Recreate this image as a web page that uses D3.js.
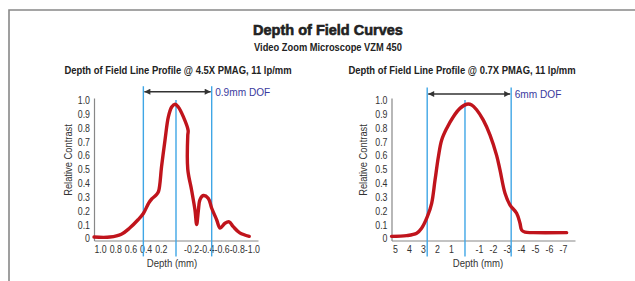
<!DOCTYPE html>
<html>
<head>
<meta charset="utf-8">
<script src="https://cdn.jsdelivr.net/npm/d3@7"></script>
<style>
  body { margin: 0; background: #fff; }
  svg text { fill: #333; font-family: 'Liberation Sans', Arial, sans-serif; }
</style>
</head>
<body>
<svg id="viewer"></svg>
<script>
// depth (mm) vs relative contrast
var leftDepth = [1.08, 0.87, 0.72, 0.61, 0.50, 0.43, 0.36, 0.32, 0.26, 0.23, 0.19, 0.145, 0.10, 0.057, 0.013, -0.03, -0.096, -0.16, -0.155, -0.155, -0.205, -0.25, -0.272, -0.294, -0.316, -0.36, -0.425, -0.469, -0.535, -0.58, -0.645, -0.70, -0.754, -0.84, -0.965];
var leftContrast = [0.01, 0.01, 0.03, 0.075, 0.135, 0.18, 0.255, 0.285, 0.315, 0.34, 0.52, 0.71, 0.88, 0.95, 0.97, 0.95, 0.88, 0.78, 0.745, 0.5, 0.35, 0.205, 0.10, 0.2, 0.28, 0.31, 0.29, 0.22, 0.135, 0.075, 0.11, 0.12, 0.085, 0.04, 0.015];

var rightDepth = [5.25, 4.17, 3.45, 3.1, 2.69, 2.38, 2.14, 1.90, 1.67, 1.31, 0.83, 0.36, -0.12, -0.48, -0.83, -1.31, -1.79, -2.26, -2.5, -2.86, -3.21, -3.69, -3.93, -4.05, -4.29, -4.88, -7.26];
var rightContrast = [0.015, 0.02, 0.037, 0.073, 0.157, 0.254, 0.422, 0.59, 0.71, 0.795, 0.88, 0.94, 0.97, 0.965, 0.93, 0.855, 0.747, 0.60, 0.495, 0.326, 0.242, 0.182, 0.11, 0.06, 0.045, 0.042, 0.042];

var leftTicks = [1.0, 0.8, 0.6, 0.4, 0.2, -0.2, -0.4, -0.6, -0.8, -1.0];
var rightTicks = [5, 4, 3, 2, 1, -1, -2, -3, -4, -5, -6, -7];
var yTicks = [0, 0.1, 0.2, 0.3, 0.4, 0.5, 0.6, 0.7, 0.8, 0.9, 1.0];

var leftDof = [0.43, 0, -0.47];
var rightDof = [2.7, 0, -3.3];

var charts = [
  {title: 'Depth of Field Line Profile @ 4.5X PMAG, 11 lp/mm', depth: leftDepth, contrast: leftContrast,
   ticks: leftTicks, fmt: d3.format('.1f'), dof: leftDof, dofLabel: '0.9mm DOF',
   domain: [1.08, -1.08], range: [94, 258], titleX: 178, labelX: 172, yLabelX: 68, arrowY: 91.7, dofTop: 1.1},
  {title: 'Depth of Field Line Profile @ 0.7X PMAG, 11 lp/mm', depth: rightDepth, contrast: rightContrast,
   ticks: rightTicks, fmt: d3.format('d'), dof: rightDof, dofLabel: '6mm DOF',
   domain: [5.25, -7.86], range: [391.5, 575], titleX: 462, labelX: 478, yLabelX: 363, arrowY: 94, dofTop: 1.09}
];

// no Arial Narrow here, so squeeze Liberation Sans horizontally
function narrow(sel, k) {
  sel.each(function() {
    var w = this.getComputedTextLength();
    d3.select(this).attr('textLength', w * k).attr('lengthAdjust', 'spacingAndGlyphs');
  });
}

var svg = d3.select('#viewer').attr('width', 635).attr('height', 281);

svg.append('defs').append('marker')
  .attr('id', 'head')
  .attr('viewBox', '0 0 10 10')
  .attr('refX', 10).attr('refY', 5)
  .attr('markerWidth', 7).attr('markerHeight', 6)
  .attr('markerUnits', 'userSpaceOnUse')
  .attr('orient', 'auto-start-reverse')
  .append('path').attr('d', 'M0,0L10,5L0,10Z').attr('fill', '#333');

// frame
svg.append('path').attr('d', 'M9,281V10H635').attr('fill', 'none')
  .attr('stroke', '#888').attr('stroke-width', 1.6);

svg.append('text').attr('x', 328).attr('y', 35).attr('text-anchor', 'middle')
  .style('font-weight', 'bold').style('font-size', '14.5px').style('fill', '#222')
  .style('stroke', '#222').style('stroke-width', 0.6).text('Depth of Field Curves');
svg.append('text').attr('x', 328).attr('y', 50.5).attr('text-anchor', 'middle')
  .style('font-size', '11.5px').style('font-weight', 'bold').style('fill', '#222')
  .text('Video Zoom Microscope VZM 450').call(narrow, 0.81);

var y = d3.scaleLinear().domain([-0.015, 1.015]).range([240.5, 98]);

function hyphen(f) { return function(d) { return f(d).replace('\u2212', '-'); }; }

charts.forEach(function(c) {
  var x = d3.scaleLinear().domain(c.domain).range(c.range);
  var g = svg.append('g');

  g.append('text').attr('x', c.titleX).attr('y', 74)
    .attr('text-anchor', 'middle').style('font-size', '11.5px').style('font-weight', 'bold')
    .style('fill', '#222').text(c.title).call(narrow, 0.82);

  var yAxis = g.append('g').attr('transform', 'translate(' + c.range[0] + ',0)')
    .call(d3.axisLeft(y).tickValues(yTicks).tickSize(0).tickPadding(4)
      .tickFormat(function(d) { return d === 0 ? '0' : d3.format('.1f')(d); }));
  var xAxis = g.append('g').attr('transform', 'translate(0,' + y.range()[0] + ')')
    .call(d3.axisBottom(x).tickValues(c.ticks).tickSize(0).tickPadding(5).tickFormat(hyphen(c.fmt)));
  [yAxis, xAxis].forEach(function(a) {
    a.select('.domain').attr('stroke', '#888').attr('stroke-width', 1.2);
    a.selectAll('text').attr('font-family', null).style('font-size', '11px').style('fill', '#333')
      .call(narrow, 0.8);
  });

  g.append('text').attr('x', c.labelX).attr('y', 267)
    .attr('text-anchor', 'middle').style('font-size', '11px').text('Depth (mm)').call(narrow, 0.87);
  g.append('text')
    .attr('transform', 'translate(' + c.yLabelX + ',' + 160 + ') rotate(-90)')
    .attr('text-anchor', 'middle').attr('dy', '0.35em').style('font-size', '11px')
    .text('Relative Contrast').call(narrow, 0.85);

  // DOF markers
  g.selectAll('.dof').data(c.dof).enter().append('line')
    .attr('x1', function(d) { return x(d); }).attr('x2', function(d) { return x(d); })
    .attr('y1', function(d) { return d === 0 ? y(1.0) : y(c.dofTop); })
    .attr('y2', y(-0.13))
    .attr('stroke', '#3fa6e6').attr('stroke-width', 1.4);

  g.append('line')
    .attr('x1', x(c.dof[0]) + 1).attr('x2', x(c.dof[2]) - 1)
    .attr('y1', c.arrowY).attr('y2', c.arrowY)
    .attr('stroke', '#333').attr('stroke-width', 1.6)
    .attr('marker-start', 'url(#head)').attr('marker-end', 'url(#head)');
  g.append('text').attr('x', x(c.dof[2]) + 3.5).attr('y', c.arrowY)
    .attr('dy', '0.35em').style('font-size', '11.5px').style('fill', '#3a3a9e')
    .text(c.dofLabel).call(narrow, 0.88);

  var pts = c.depth.map(function(d, i) { return [d, c.contrast[i]]; });
  g.append('path').datum(pts)
    .attr('fill', 'none').attr('stroke', '#c0141c').attr('stroke-width', 3.4)
    .attr('stroke-linejoin', 'round').attr('stroke-linecap', 'round')
    .attr('d', d3.line().x(function(p) { return x(p[0]); }).y(function(p) { return y(p[1]); })
      .curve(d3.curveCatmullRom.alpha(0.5)));
});
</script>
</body>
</html>
